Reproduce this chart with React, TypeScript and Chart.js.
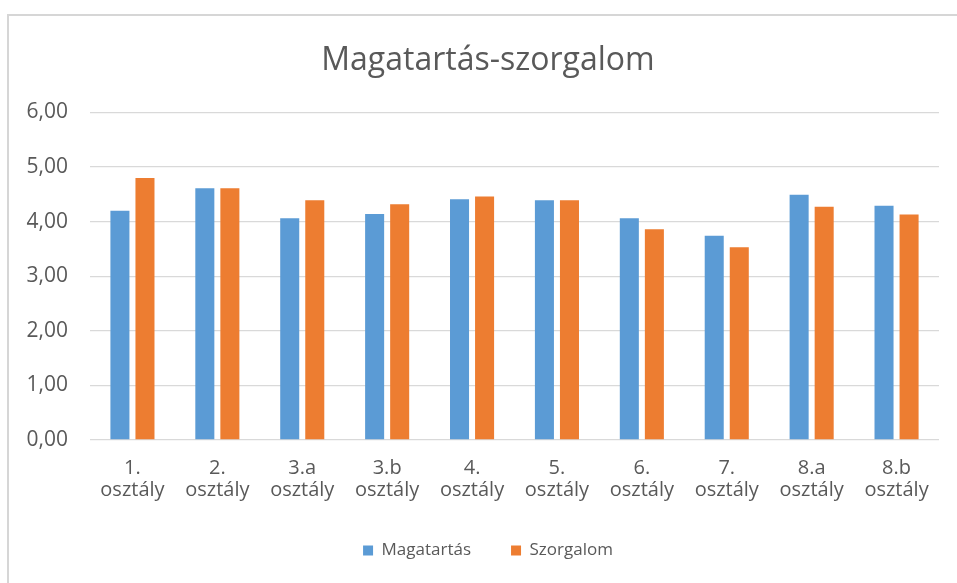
import React, { useEffect, useRef } from "react";
import { Chart, registerables } from "chart.js";

Chart.register(...registerables);

const categories: string[][] = [
  ["1.", "osztály"],
  ["2.", "osztály"],
  ["3.a", "osztály"],
  ["3.b", "osztály"],
  ["4.", "osztály"],
  ["5.", "osztály"],
  ["6.", "osztály"],
  ["7.", "osztály"],
  ["8.a", "osztály"],
  ["8.b", "osztály"],
];
const magatartas: number[] = [4.2, 4.61, 4.06, 4.14, 4.41, 4.39, 4.06, 3.74, 4.49, 4.29];
const szorgalom: number[] = [4.8, 4.61, 4.39, 4.32, 4.46, 4.39, 3.86, 3.53, 4.27, 4.13];
const seriesNames: string[] = ["Magatartás", "Szorgalom"];
const titleText = "Magatartás-szorgalom";
const yMin = 0;
const yMax = 6;
const yStep = 1;

const FONT = "'Open Sans', 'DejaVu Sans', sans-serif";
const TEXT = "#595959";
const GRID = "#d9d9d9";

const framePlugin = {
  id: "frameBorder",
  beforeDraw(chart: any) {
    // centre title and legend over the framed area, as the original does
    if (chart.titleBlock) chart.titleBlock.left = 37;
    if (chart.legend) chart.legend.left = 37;
    const ctx = chart.ctx;
    ctx.save();
    ctx.fillStyle = "#ffffff";
    ctx.fillRect(0, 0, chart.width, chart.height);
    ctx.strokeStyle = "#d6d6d6";
    ctx.lineWidth = 2;
    ctx.strokeRect(8, 15, chart.width + 20, chart.height + 20);
    ctx.restore();
  },
};

export default function App() {
  const ref = useRef<HTMLCanvasElement | null>(null);
  useEffect(() => {
    if (!ref.current) return;
    const chart = new Chart(ref.current, {
      type: "bar",
      data: {
        labels: categories,
        datasets: [
          {
            label: seriesNames[0],
            data: magatartas,
            backgroundColor: "#5b9bd5",
            categoryPercentage: 0.59,
            barPercentage: 0.76,
          },
          {
            label: seriesNames[1],
            data: szorgalom,
            backgroundColor: "#ed7d31",
            categoryPercentage: 0.59,
            barPercentage: 0.76,
          },
        ],
      },
      options: {
        responsive: false,
        animation: false,
        layout: { padding: { left: 0, right: 18, top: 0, bottom: 14 } },
        plugins: {
          title: {
            display: true,
            text: titleText,
            color: TEXT,
            font: { family: FONT, size: 32, weight: "normal", lineHeight: 1.2 },
            padding: { top: 42, bottom: 32 },
          },
          legend: {
            position: "bottom",
            labels: {
              color: TEXT,
              font: { family: FONT, size: 17 },
              boxWidth: 10,
              boxHeight: 10,
              padding: 40,
            },
          },
          tooltip: { enabled: false },
        },
        scales: {
          x: {
            grid: { display: false, drawTicks: false },
            border: { display: false },
            ticks: {
              color: TEXT,
              font: { family: FONT, size: 20, lineHeight: 1.1 },
              padding: 17,
              maxRotation: 0,
              autoSkip: false,
            },
            afterFit: (scale: any) => {
              scale.height = 62;
            },
          },
          y: {
            min: yMin,
            max: yMax,
            grid: { color: GRID, lineWidth: 1.3, drawTicks: false },
            border: { display: false },
            ticks: {
              stepSize: yStep,
              color: TEXT,
              font: { family: FONT, size: 21 },
              padding: 22,
              callback: (v: any) => Number(v).toFixed(2).replace(".", ","),
            },
            afterFit: (scale: any) => {
              scale.width = 90;
            },
          },
        },
      },
      plugins: [framePlugin],
    });
    return () => chart.destroy();
  }, []);
  return (
    <div style={{ position: "absolute", left: 0, top: 0, width: 957, height: 583 }}>
      <canvas ref={ref} width={957} height={583} style={{ display: "block" }} />
    </div>
  );
}
